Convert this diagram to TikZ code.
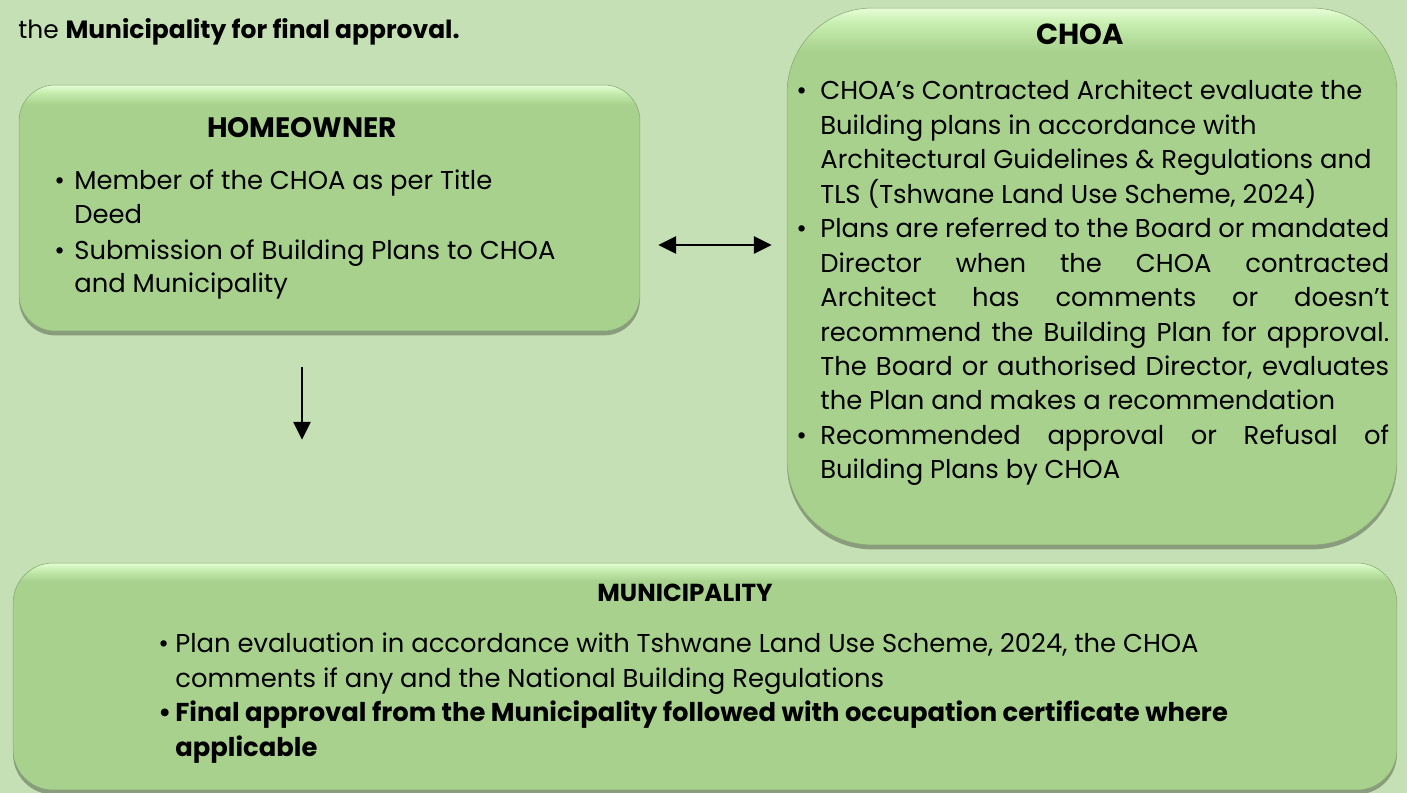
\documentclass[tikz,border=0pt]{standalone}
\usepackage{fontspec}
\setmainfont{Poppins}
\usetikzlibrary{positioning, shadows, arrows.meta}
\definecolor{pagebg}{HTML}{C5E0B4}
\definecolor{boxfill}{HTML}{A9D18E}
\definecolor{boxlight}{HTML}{C6EDAE}
\definecolor{boxtop}{HTML}{E6FDD6}
\pgfdeclareverticalshading{boxglow}{100bp}{color(0bp)=(boxfill); color(25bp)=(boxfill); color(71bp)=(boxfill); color(73.5bp)=(boxlight); color(75bp)=(boxtop); color(100bp)=(boxtop)}
\tikzset{
	arrow/.style={line width=1.5pt, ->, >={Triangle[length=0.36cm, width=0.34cm]}},
	biarrow/.style={arrow, <->},
	panel/.style={rectangle, shading=boxglow, draw=boxfill!80!black, line width=0.3pt,
		drop shadow={shadow xshift=0pt, shadow yshift=-2.5pt, opacity=0.3, fill=black}},
	heading/.style={font=\bfseries, anchor=base, inner sep=0pt},
	body/.style={font=\fontsize{14.7pt}{19.6pt}\selectfont, anchor=base west, inner sep=0pt},
}
\tolerance=10000
\hbadness=10000
\hfuzz=20pt
\newcommand{\bitem}[2]{\noindent\hangindent=#1\hangafter=1\makebox[#1][l]{\textbullet}#2\par}

\begin{document}
\begin{tikzpicture}[x=0.02cm, y=-0.02cm]
	\useasboundingbox[fill=pagebg] (0,0) rectangle (1407,793);

	\node[body, font=\fontsize{14.2pt}{19.6pt}\selectfont] (intro) at (18,39) {the \textbf{Municipality for final approval.}};

	% homeowner
	\node[panel, rounded corners=0.72cm, minimum width=12.42cm, minimum height=4.92cm] (homeowner) at (329.5,208) {};
	\node[heading, font=\fontsize{16pt}{18pt}\selectfont\bfseries] (hotitle) at (302,138) {HOMEOWNER};
	\node[body] (hotext) at (54,190) {\parbox[t]{10.6cm}{\fontsize{14.7pt}{18.8pt}\selectfont
		\bitem{0.4cm}{Member of the CHOA as per Title\newline Deed}
		\vspace{2pt}
		\bitem{0.4cm}{Submission of Building Plans to CHOA\newline and Municipality}}};

	% choa
	\node[panel, rounded corners=1.7cm, minimum width=12.2cm, minimum height=10.74cm] (choa) at (1092,276.5) {};
	\node[heading, font=\fontsize{16.5pt}{18pt}\selectfont\bfseries] (choatitle) at (1080,45) {CHOA};
	\node[body] (choatext) at (796,100) {\parbox[t]{11.86cm}{
		\bitem{0.48cm}{CHOA’s Contracted Architect evaluate the\newline Building plans in accordance with\newline Architectural Guidelines \& Regulations and\newline TLS (Tshwane Land Use Scheme, 2024)}
		\bitem{0.48cm}{Plans are referred to the Board or mandated\linebreak Director when the CHOA contracted\linebreak Architect has comments or doesn’t\linebreak recommend the Building Plan for approval.\linebreak The Board or authorised Director, evaluates\linebreak the Plan and makes a recommendation}
		\bitem{0.48cm}{Recommended approval or Refusal of\linebreak Building Plans by CHOA}}};

	% municipality
	\node[panel, rounded corners=0.8cm, minimum width=27.68cm, minimum height=4.54cm] (municipality) at (705,676.5) {};
	\node[heading, font=\fontsize{14pt}{16pt}\selectfont\bfseries] (mutitle) at (685,602) {MUNICIPALITY};
	\node[body] (mutext) at (158,653) {\parbox[t]{23cm}{
		\bitem{0.34cm}{Plan evaluation in accordance with Tshwane Land Use Scheme, 2024, the CHOA\newline comments if any and the National Building Regulations}
		{\bfseries\bitem{0.34cm}{Final approval from the Municipality followed with occupation certificate where\newline applicable}}}};

	% links
	\coordinate (link) at (700,245);
	\draw[biarrow, shorten <=0.36cm, shorten >=0.3cm] (homeowner.east |- link) -- (choa.west |- link);
	\draw[arrow, shorten <=0.72cm, shorten >=2.46cm] (hotitle |- homeowner.south) -- (hotitle |- municipality.north);
\end{tikzpicture}
\end{document}
